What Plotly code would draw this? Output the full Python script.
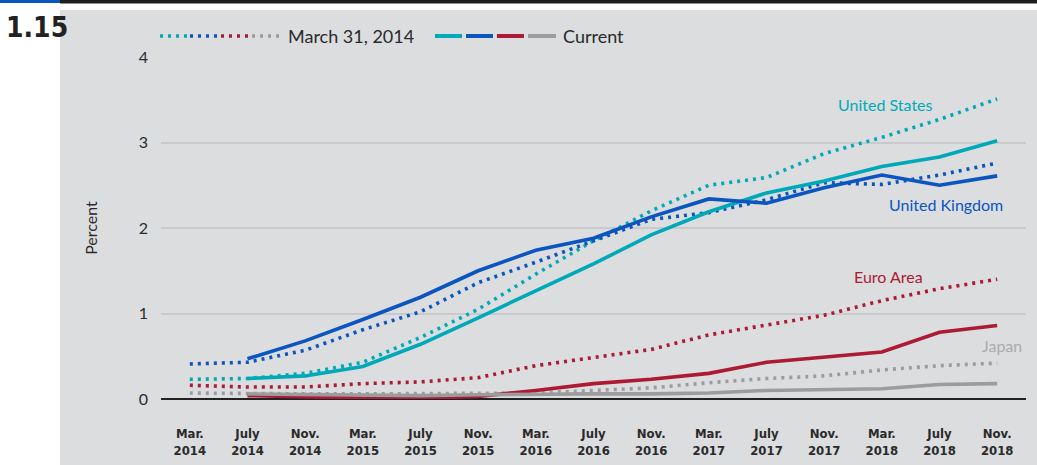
import plotly.graph_objects as go

months = ["Mar.<br>2014", "July<br>2014", "Nov.<br>2014", "Mar.<br>2015", "July<br>2015",
          "Nov.<br>2015", "Mar.<br>2016", "July<br>2016", "Nov.<br>2016", "Mar.<br>2017",
          "July<br>2017", "Nov.<br>2017", "Mar.<br>2018", "July<br>2018", "Nov.<br>2018"]

us_2014 = [0.23, 0.24, 0.30, 0.43, 0.72, 1.05, 1.46, 1.85, 2.20, 2.50, 2.59, 2.87, 3.06, 3.27, 3.51]
uk_2014 = [0.41, 0.43, 0.57, 0.81, 1.02, 1.36, 1.60, 1.85, 2.10, 2.18, 2.33, 2.53, 2.51, 2.62, 2.76]
ea_2014 = [0.16, 0.14, 0.14, 0.18, 0.20, 0.25, 0.39, 0.49, 0.58, 0.75, 0.87, 0.98, 1.15, 1.29, 1.40]
jp_2014 = [0.07, 0.06, 0.06, 0.06, 0.06, 0.06, 0.07, 0.10, 0.13, 0.19, 0.24, 0.27, 0.34, 0.39, 0.42]

us_cur = [None, 0.24, 0.27, 0.38, 0.64, 0.95, 1.26, 1.58, 1.92, 2.19, 2.41, 2.55, 2.72, 2.83, 3.02]
uk_cur = [None, 0.47, 0.68, 0.93, 1.19, 1.50, 1.74, 1.88, 2.13, 2.34, 2.29, 2.47, 2.62, 2.50, 2.61]
ea_cur = [None, 0.04, 0.02, 0.01, 0.01, 0.03, 0.10, 0.18, 0.23, 0.30, 0.43, 0.49, 0.55, 0.78, 0.86]
jp_cur = [None, 0.06, 0.05, 0.04, 0.04, 0.05, 0.06, 0.06, 0.06, 0.07, 0.10, 0.11, 0.12, 0.17, 0.18]

series_names = ["United States", "United Kingdom", "Euro Area", "Japan"]
colors = ["#00A9B7", "#0A55C0", "#AC1A33", "#9C9C9E"]
label_colors = ["#00A9B7", "#0A55C0", "#AC1A33", "#ABABAD"]

BG = "#DCDDDF"
FONT = "Lato"
NARROW = "DejaVu Sans Condensed, DejaVu Sans"
DOT = "3px,5px"

W, H = 1037, 465
ML, MR, MT, MB = 161, 11, 57, 66
PW, PH = W - ML - MR, H - MT - MB


def px(x):
    return (x - ML) / PW


def py(y):
    return (H - MB - y) / PH


fig = go.Figure()

for name, vals, col in zip(series_names, [us_2014, uk_2014, ea_2014, jp_2014], colors):
    fig.add_trace(go.Scatter(x=months, y=vals, mode="lines", name=name + " (March 31, 2014)",
                             line=dict(color=col, width=3.6, dash=DOT),
                             showlegend=False))

for name, vals, col in zip(series_names, [us_cur, uk_cur, ea_cur, jp_cur], colors):
    fig.add_trace(go.Scatter(x=months, y=vals, mode="lines", name=name + " (Current)",
                             line=dict(color=col, width=3.6), showlegend=False))

shapes = []
# white margins / header
shapes.append(dict(type="rect", xref="paper", yref="paper", x0=px(0), x1=px(60), y0=py(H), y1=py(0),
                   fillcolor="white", line_width=0, layer="below"))
shapes.append(dict(type="rect", xref="paper", yref="paper", x0=px(0), x1=px(W), y0=py(10), y1=py(0),
                   fillcolor="white", line_width=0, layer="below"))
shapes.append(dict(type="rect", xref="paper", yref="paper", x0=px(60), x1=px(W), y0=py(3.5), y1=py(0),
                   fillcolor="#1E1E1E", line_width=0, layer="below"))
shapes.append(dict(type="rect", xref="paper", yref="paper", x0=px(0), x1=px(60), y0=py(3), y1=py(0),
                   fillcolor="#0A55C0", line_width=0, layer="below"))

# custom legend
dot_x = [(160, 188), (190, 218), (221, 249), (252, 281)]
sol_x = [(435, 462), (466, 493), (497, 524), (528, 556)]
LY = 36
for (a, b), col in zip(dot_x, colors):
    shapes.append(dict(type="line", xref="paper", yref="paper", x0=px(a), x1=px(b), y0=py(LY), y1=py(LY),
                       line=dict(color=col, width=3.6, dash=DOT)))
for (a, b), col in zip(sol_x, colors):
    shapes.append(dict(type="line", xref="paper", yref="paper", x0=px(a), x1=px(b), y0=py(LY), y1=py(LY),
                       line=dict(color=col, width=4)))

annotations = [
    dict(text="<b>1.15</b>", xref="paper", yref="paper", x=px(4), y=py(9), xanchor="left", yanchor="top",
         showarrow=False, font=dict(family=NARROW, size=28, color="#222222")),
    dict(text="March 31, 2014", xref="paper", yref="paper", x=px(286), y=py(LY), xanchor="left",
         yanchor="middle", showarrow=False, font=dict(family=FONT, size=18, color="#2A2A2A")),
    dict(text="Current", xref="paper", yref="paper", x=px(561), y=py(LY), xanchor="left",
         yanchor="middle", showarrow=False, font=dict(family=FONT, size=18, color="#2A2A2A")),
]

label_pos = [(12.06, 3.45), (13.12, 2.27), (12.11, 1.43), (14.09, 0.63)]
for name, (lx, ly), col in zip(series_names, label_pos, label_colors):
    annotations.append(dict(text=name, x=lx, y=ly, xref="x", yref="y", showarrow=False,
                            font=dict(family=FONT, size=16, color=col)))

fig.update_layout(
    width=W, height=H, autosize=False,
    margin=dict(l=ML, r=MR, t=MT, b=MB, autoexpand=False),
    paper_bgcolor=BG, plot_bgcolor=BG,
    shapes=shapes, annotations=annotations,
    showlegend=False,
    font=dict(family=FONT, color="#2A2A2A"),
)

fig.update_xaxes(
    type="category", range=[-0.5, 14.5], showgrid=False, zeroline=False, showline=False,
    ticks="", tickfont=dict(family=NARROW, size=13, color="#2A2A2A", weight="bold"),
    ticklabelstandoff=25, automargin=False,
)
fig.update_yaxes(
    range=[0, 4], tickvals=[0, 1, 2, 3, 4], showgrid=True, gridcolor="#C9CACD", gridwidth=2,
    zeroline=True, zerolinecolor="#222222", zerolinewidth=2, showline=False,
    ticks="", tickfont=dict(family=FONT, size=16, color="#2A2A2A"), ticklabelstandoff=12,
    title=dict(text="Percent", font=dict(family=FONT, size=16, color="#2A2A2A"), standoff=37),
    automargin=False,
)

fig.write_html("out.html", config={"displayModeBar": False, "responsive": False},
               post_script="document.body.style.margin='0';")
